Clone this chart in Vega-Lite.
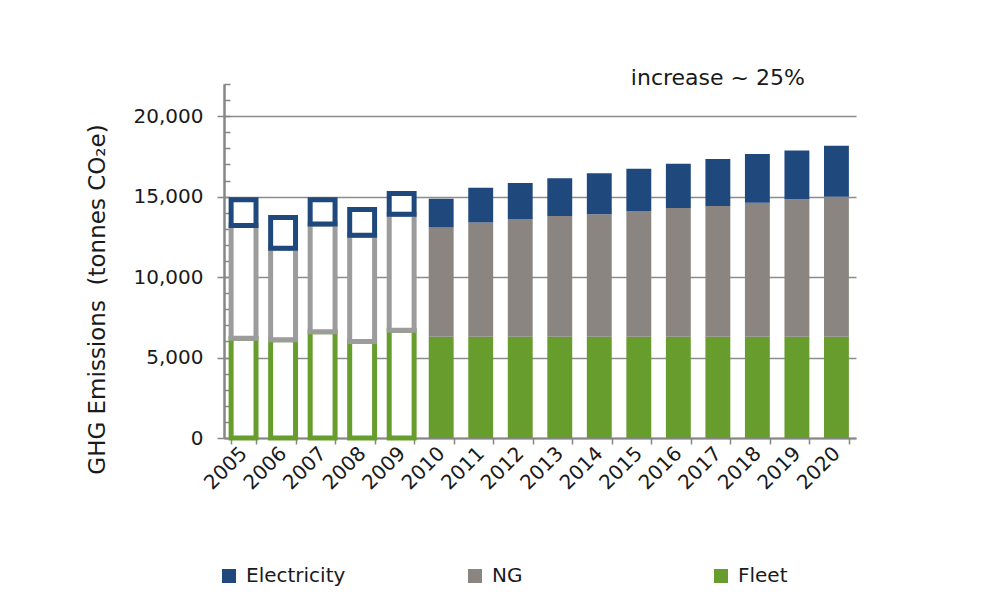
{
  "$schema": "https://vega.github.io/schema/vega-lite/v6.json",
  "width": 632,
  "height": 354,
  "autosize": {"type": "none"},
  "padding": {"left": 224, "top": 84, "right": 150, "bottom": 171},
  "background": "white",
  "config": {"view": {"stroke": null}, "font": "DejaVu Sans"},
  "data": {"values": [
    {"year": "2005", "series": "Fleet", "stack": 1, "value": 6200},
    {"year": "2005", "series": "NG", "stack": 2, "value": 7000},
    {"year": "2005", "series": "Electricity", "stack": 3, "value": 1600},
    {"year": "2006", "series": "Fleet", "stack": 1, "value": 6100},
    {"year": "2006", "series": "NG", "stack": 2, "value": 5700},
    {"year": "2006", "series": "Electricity", "stack": 3, "value": 1900},
    {"year": "2007", "series": "Fleet", "stack": 1, "value": 6600},
    {"year": "2007", "series": "NG", "stack": 2, "value": 6700},
    {"year": "2007", "series": "Electricity", "stack": 3, "value": 1500},
    {"year": "2008", "series": "Fleet", "stack": 1, "value": 6000},
    {"year": "2008", "series": "NG", "stack": 2, "value": 6600},
    {"year": "2008", "series": "Electricity", "stack": 3, "value": 1600},
    {"year": "2009", "series": "Fleet", "stack": 1, "value": 6700},
    {"year": "2009", "series": "NG", "stack": 2, "value": 7200},
    {"year": "2009", "series": "Electricity", "stack": 3, "value": 1300},
    {"year": "2010", "series": "Fleet", "stack": 1, "value": 6300},
    {"year": "2010", "series": "NG", "stack": 2, "value": 6790},
    {"year": "2010", "series": "Electricity", "stack": 3, "value": 1780},
    {"year": "2011", "series": "Fleet", "stack": 1, "value": 6300},
    {"year": "2011", "series": "NG", "stack": 2, "value": 7100},
    {"year": "2011", "series": "Electricity", "stack": 3, "value": 2160},
    {"year": "2012", "series": "Fleet", "stack": 1, "value": 6300},
    {"year": "2012", "series": "NG", "stack": 2, "value": 7310},
    {"year": "2012", "series": "Electricity", "stack": 3, "value": 2240},
    {"year": "2013", "series": "Fleet", "stack": 1, "value": 6300},
    {"year": "2013", "series": "NG", "stack": 2, "value": 7500},
    {"year": "2013", "series": "Electricity", "stack": 3, "value": 2340},
    {"year": "2014", "series": "Fleet", "stack": 1, "value": 6300},
    {"year": "2014", "series": "NG", "stack": 2, "value": 7600},
    {"year": "2014", "series": "Electricity", "stack": 3, "value": 2550},
    {"year": "2015", "series": "Fleet", "stack": 1, "value": 6300},
    {"year": "2015", "series": "NG", "stack": 2, "value": 7810},
    {"year": "2015", "series": "Electricity", "stack": 3, "value": 2630},
    {"year": "2016", "series": "Fleet", "stack": 1, "value": 6300},
    {"year": "2016", "series": "NG", "stack": 2, "value": 8000},
    {"year": "2016", "series": "Electricity", "stack": 3, "value": 2750},
    {"year": "2017", "series": "Fleet", "stack": 1, "value": 6300},
    {"year": "2017", "series": "NG", "stack": 2, "value": 8120},
    {"year": "2017", "series": "Electricity", "stack": 3, "value": 2920},
    {"year": "2018", "series": "Fleet", "stack": 1, "value": 6300},
    {"year": "2018", "series": "NG", "stack": 2, "value": 8320},
    {"year": "2018", "series": "Electricity", "stack": 3, "value": 3030},
    {"year": "2019", "series": "Fleet", "stack": 1, "value": 6300},
    {"year": "2019", "series": "NG", "stack": 2, "value": 8530},
    {"year": "2019", "series": "Electricity", "stack": 3, "value": 3030},
    {"year": "2020", "series": "Fleet", "stack": 1, "value": 6300},
    {"year": "2020", "series": "NG", "stack": 2, "value": 8700},
    {"year": "2020", "series": "Electricity", "stack": 3, "value": 3170}
  ]},
  "encoding": {
    "x": {
      "field": "year", "type": "ordinal",
      "scale": {"paddingInner": 0.37, "paddingOuter": 0.18},
      "axis": {
        "title": null, "labelAngle": -45, "labelAlign": "right", "labelBaseline": "middle",
        "labelFontSize": 20, "labelColor": "#1a1a1a", "labelPadding": 6, "labelDx": 11,
        "tickBand": "extent", "tickSize": 6, "tickColor": "#868686", "tickWidth": 1.5,
        "domainColor": "#868686", "domainWidth": 2
      }
    }
  },
  "layer": [
    {
      "transform": [{"filter": "toNumber(datum.year) >= 2010"}],
      "mark": {"type": "bar"},
      "encoding": {
        "y": {
          "field": "value", "type": "quantitative", "aggregate": "sum", "stack": "zero",
          "scale": {"domain": [0, 22000], "nice": false},
          "axis": {
            "title": "GHG Emissions\u00a0 (tonnes CO₂e)", "titleFontSize": 23, "titleFontWeight": "normal",
            "titleColor": "#1a1a1a", "titleAngle": -90, "titleAlign": "center", "titleBaseline": "middle",
            "titleX": -127, "titleY": 215,
            "values": [0, 5000, 10000, 15000, 20000], "format": ",.0f",
            "labelFontSize": 20, "labelColor": "#1a1a1a", "labelPadding": 14,
            "grid": true, "gridColor": "#8c8c8c", "gridWidth": 1.5,
            "tickSize": 7, "tickColor": "#868686", "tickWidth": 1.5,
            "domainColor": "#868686", "domainWidth": 2
          }
        },
        "color": {
          "field": "series", "type": "nominal",
          "scale": {"domain": ["Electricity", "NG", "Fleet"], "range": ["#1f497d", "#8a8580", "#669d2d"]},
          "legend": {
            "title": null, "orient": "none", "legendX": -5, "legendY": 482,
            "direction": "horizontal", "columns": 3, "gridAlign": "all", "columnPadding": 119,
            "symbolType": "square", "symbolSize": 196, "symbolStrokeWidth": 0, "symbolOpacity": 1,
            "labelFontSize": 20, "labelColor": "#1a1a1a", "labelOffset": 7
          }
        },
        "order": {"field": "stack", "type": "quantitative"}
      }
    },
    {
      "transform": [{"filter": "toNumber(datum.year) < 2010"}],
      "mark": {"type": "bar", "fill": "white", "strokeWidth": 5},
      "encoding": {
        "y": {
          "field": "value", "type": "quantitative", "aggregate": "sum", "stack": "zero",
          "axis": {
            "orient": "left", "title": null, "labels": false, "grid": false,
            "values": [0,1000,2000,3000,4000,5000,6000,7000,8000,9000,10000,11000,12000,13000,14000,15000,16000,17000,18000,19000,20000,21000,22000],
            "tickSize": -6, "tickColor": "#868686", "tickWidth": 1.5,
            "domainColor": "#868686", "domainWidth": 2
          }
        },
        "stroke": {
          "field": "series", "type": "nominal",
          "scale": {"domain": ["Electricity", "NG", "Fleet"], "range": ["#1f497d", "#9c9c9c", "#669d2d"]},
          "legend": null
        },
        "order": {"field": "stack", "type": "quantitative"}
      }
    },
    {
      "data": {"values": [{"year": "2017", "value": 22000, "label": "increase ~ 25%"}]},
      "mark": {"type": "text", "fontSize": 22, "color": "#1a1a1a", "baseline": "alphabetic", "align": "center", "dy": 1},
      "encoding": {
        "y": {"field": "value", "type": "quantitative", "axis": null},
        "text": {"field": "label"}
      }
    }
  ],
  "resolve": {"axis": {"y": "independent"}}
}
